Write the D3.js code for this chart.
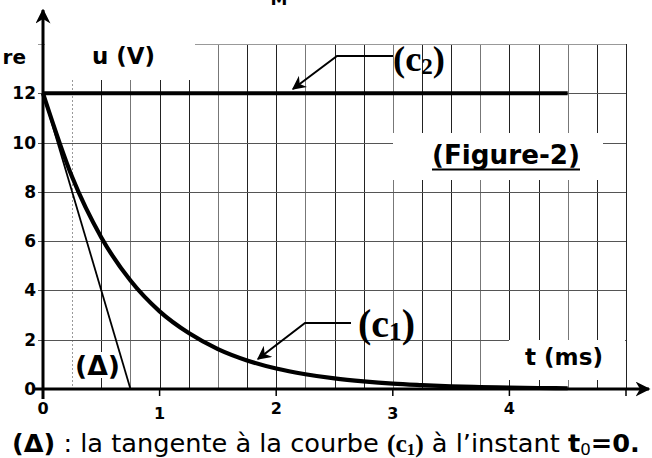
<!DOCTYPE html>
<html>
<head>
<meta charset="utf-8">
<script src="https://cdn.jsdelivr.net/npm/d3@7"></script>
<style>
  body { margin: 0; background: #fff; }
  svg { display: block; font-family: "DejaVu Sans", sans-serif; font-weight: bold; }
</style>
</head>
<body>
<div id="chart"></div>
<script>
// values
var tValues  = [0, 0.25, 0.5, 0.75, 1, 1.25, 1.5, 1.75, 2, 2.25, 2.5, 2.75, 3, 3.25, 3.5, 3.75, 4, 4.25, 4.5];
var c1Values = [12, 8.6, 6.15, 4.4, 3.15, 2.27, 1.62, 1.16, 0.83, 0.6, 0.43, 0.31, 0.22, 0.16, 0.11, 0.08, 0.06, 0.04, 0.03];
var c2T = [0, 4.5];
var c2Values = [12, 12];
var tangentT = [0, 0.75];
var tangentValues = [12, 0];
var xTicks = [0, 1, 2, 3, 4];
var yTicks = [0, 2, 4, 6, 8, 10, 12];

var width = 652, height = 458;
var serif = '"Liberation Serif", "DejaVu Serif", serif';

var svg = d3.select('#chart').append('svg')
  .attr('width', width)
  .attr('height', height);

var x = d3.scaleLinear().domain([0, 5]).range([43, 626]);
var y = d3.scaleLinear().domain([0, 14]).range([389, 44]);

// shrink or grow a text until it has the wanted width
function fitWidth(sel, target) {
  var size = +sel.attr('font-size');
  var w = sel.node().getComputedTextLength();
  if (w > 0) {
    var k = target / w;
    sel.attr('font-size', (size * k).toFixed(2));
    sel.selectAll('tspan').filter(function() { return this.getAttribute('font-size'); })
      .attr('font-size', function() { return (+this.getAttribute('font-size') * k).toFixed(2); });
  }
  return sel;
}

var defs = svg.append('defs');
function addHead(id, size) {
  defs.append('marker')
    .attr('id', id)
    .attr('viewBox', '0 0 10 10')
    .attr('refX', 9).attr('refY', 5)
    .attr('markerWidth', size).attr('markerHeight', size)
    .attr('markerUnits', 'strokeWidth')
    .attr('orient', 'auto')
    .append('path').attr('d', 'M0,0 L10,5 L0,10 L3,5 Z').attr('fill', '#000');
}
addHead('axisHead', 5);
addHead('leaderHead', 7);

/*
 grid
*/
var grid = svg.append('g');
var vLines = d3.range(1, 21).map(function(i) { return i * 0.25; });
grid.selectAll('.vline')
  .data(vLines)
  .enter().append('line')
  .attr('class', 'vline')
  .attr('x1', function(d) { return Math.round(x(d)) + 0.5; })
  .attr('x2', function(d) { return Math.round(x(d)) + 0.5; })
  .attr('y1', y(14))
  .attr('y2', y(0))
  .attr('stroke', function(d, i) { return i === 0 ? '#999' : (i % 3 === 2 ? '#777' : '#222'); })
  .attr('stroke-dasharray', function(d, i) { return i === 0 ? '2,2' : null; })
  .attr('stroke-width', 1);

grid.selectAll('.hline')
  .data(d3.range(2, 15, 2))
  .enter().append('line')
  .attr('class', 'hline')
  .attr('x1', x(0) - 5)
  .attr('x2', x(5))
  .attr('y1', function(d) { return Math.round(y(d)) + 0.5; })
  .attr('y2', function(d) { return Math.round(y(d)) + 0.5; })
  .attr('stroke', function(d) { return d === 14 ? '#999' : '#555'; })
  .attr('stroke-width', 1.2);

// white boxes behind the labels
var boxes = [
  {x: 45, y: 38, w: 150, h: 42},
  {x: 509, y: 340, w: 116, h: 40},
  {x: 393, y: 133, w: 210, h: 47},
  {x: 73, y: 352, w: 48, h: 26}
];
svg.selectAll('.bg')
  .data(boxes)
  .enter().append('rect')
  .attr('x', function(d) { return d.x; })
  .attr('y', function(d) { return d.y; })
  .attr('width', function(d) { return d.w; })
  .attr('height', function(d) { return d.h; })
  .attr('fill', '#fff');

/*
 axes
*/
svg.append('line')
  .attr('x1', x(0)).attr('y1', y(0) + 10)
  .attr('x2', x(0)).attr('y2', 10)
  .attr('stroke', '#000').attr('stroke-width', 3)
  .attr('marker-end', 'url(#axisHead)');
svg.append('line')
  .attr('x1', x(0) - 8).attr('y1', y(0))
  .attr('x2', 649).attr('y2', y(0))
  .attr('stroke', '#000').attr('stroke-width', 3)
  .attr('marker-end', 'url(#axisHead)');

svg.selectAll('.xtick')
  .data([0, 1, 2, 3, 4, 5])
  .enter().append('line')
  .attr('x1', function(d) { return x(d); })
  .attr('x2', function(d) { return x(d); })
  .attr('y1', y(0))
  .attr('y2', y(0) + 7)
  .attr('stroke', '#000').attr('stroke-width', 1.5);

svg.selectAll('.ylab')
  .data(yTicks)
  .enter().append('text')
  .attr('x', 36)
  .attr('y', function(d) { return y(d) + 6; })
  .attr('text-anchor', 'end')
  .attr('font-size', 17)
  .text(function(d) { return d; });

svg.selectAll('.xlab')
  .data(xTicks)
  .enter().append('text')
  .attr('x', function(d) { return x(d); })
  .attr('y', function(d, i) { return i % 2 ? 419 : 414; })
  .attr('text-anchor', 'middle')
  .attr('font-size', 16)
  .text(function(d) { return d; });

/*
 curves
*/
var line = d3.line()
  .x(function(d) { return x(d[0]); })
  .y(function(d) { return y(d[1]); });

svg.append('path')
  .datum(c2T.map(function(t, i) { return [t, c2Values[i]]; }))
  .attr('d', line)
  .attr('fill', 'none')
  .attr('stroke', '#000')
  .attr('stroke-width', 4);

svg.append('path')
  .datum(tangentT.map(function(t, i) { return [t, tangentValues[i]]; }))
  .attr('d', line)
  .attr('fill', 'none')
  .attr('stroke', '#000')
  .attr('stroke-width', 1.8);

svg.append('path')
  .datum(tValues.map(function(t, i) { return [t, c1Values[i]]; }))
  .attr('d', d3.line()
    .x(function(d) { return x(d[0]); })
    .y(function(d) { return y(d[1]); })
    .curve(d3.curveMonotoneX))
  .attr('fill', 'none')
  .attr('stroke', '#000')
  .attr('stroke-width', 4.2);

/*
 labels
*/
fitWidth(svg.append('text').attr('x', 92).attr('y', 64)
  .attr('font-size', 19).text('u (V)'), 63);
svg.append('text').attr('x', 26).attr('y', 64)
  .attr('text-anchor', 'end').attr('font-size', 20).text('re');
svg.append('text').attr('x', 279).attr('y', 5)
  .attr('text-anchor', 'middle').attr('font-size', 17).text('M');

fitWidth(svg.append('text').attr('x', 432).attr('y', 164)
  .attr('font-size', 20).text('(Figure-2)'), 148);
svg.append('line')
  .attr('x1', 432).attr('x2', 580).attr('y1', 169.5).attr('y2', 169.5)
  .attr('stroke', '#000').attr('stroke-width', 2.2);

fitWidth(svg.append('text').attr('x', 525).attr('y', 365)
  .attr('font-size', 19).text('t (ms)'), 78);

fitWidth(svg.append('text').attr('x', 75).attr('y', 375)
  .attr('font-size', 20).text('(\u0394)'), 45);

var serifLabels = [
  {sub: '2', x: 393, y: 71, w: 52, from: [393, 56], knee: [337, 56], to: [293, 89]},
  {sub: '1', x: 358, y: 337, w: 57, from: [351, 323], knee: [305, 323], to: [258, 359]}
];
serifLabels.forEach(function(d) {
  var t = svg.append('text')
    .attr('x', d.x).attr('y', d.y)
    .attr('font-family', serif)
    .attr('font-weight', 900)
    .attr('font-size', 27);
  t.append('tspan').text('(c');
  t.append('tspan').attr('font-size', 17).attr('dy', 3).text(d.sub);
  t.append('tspan').attr('dy', -3).text(')');
  fitWidth(t, d.w);
  svg.append('polyline')
    .attr('points', [d.from, d.knee, d.to].map(function(p) { return p.join(','); }).join(' '))
    .attr('fill', 'none')
    .attr('stroke', '#000')
    .attr('stroke-width', 2)
    .attr('marker-end', 'url(#leaderHead)');
});

// caption
var cap = svg.append('text').attr('x', 12).attr('y', 452).attr('font-size', 20);
cap.append('tspan').text('(\u0394)');
cap.append('tspan').attr('font-weight', 'normal').text(' : la tangente \u00e0 la courbe ');
cap.append('tspan').attr('font-family', serif).text('(c');
cap.append('tspan').attr('font-family', serif).attr('font-size', 13).attr('dy', 3).text('1');
cap.append('tspan').attr('font-family', serif).attr('dy', -3).text(')');
cap.append('tspan').attr('font-weight', 'normal').text(' \u00e0 l\u2019instant ');
cap.append('tspan').text('t');
cap.append('tspan').attr('font-size', 13).attr('dy', 3).attr('font-weight', 'normal').text('0');
cap.append('tspan').attr('dy', -3).text('=0.');
fitWidth(cap, 628);
</script>
</body>
</html>
